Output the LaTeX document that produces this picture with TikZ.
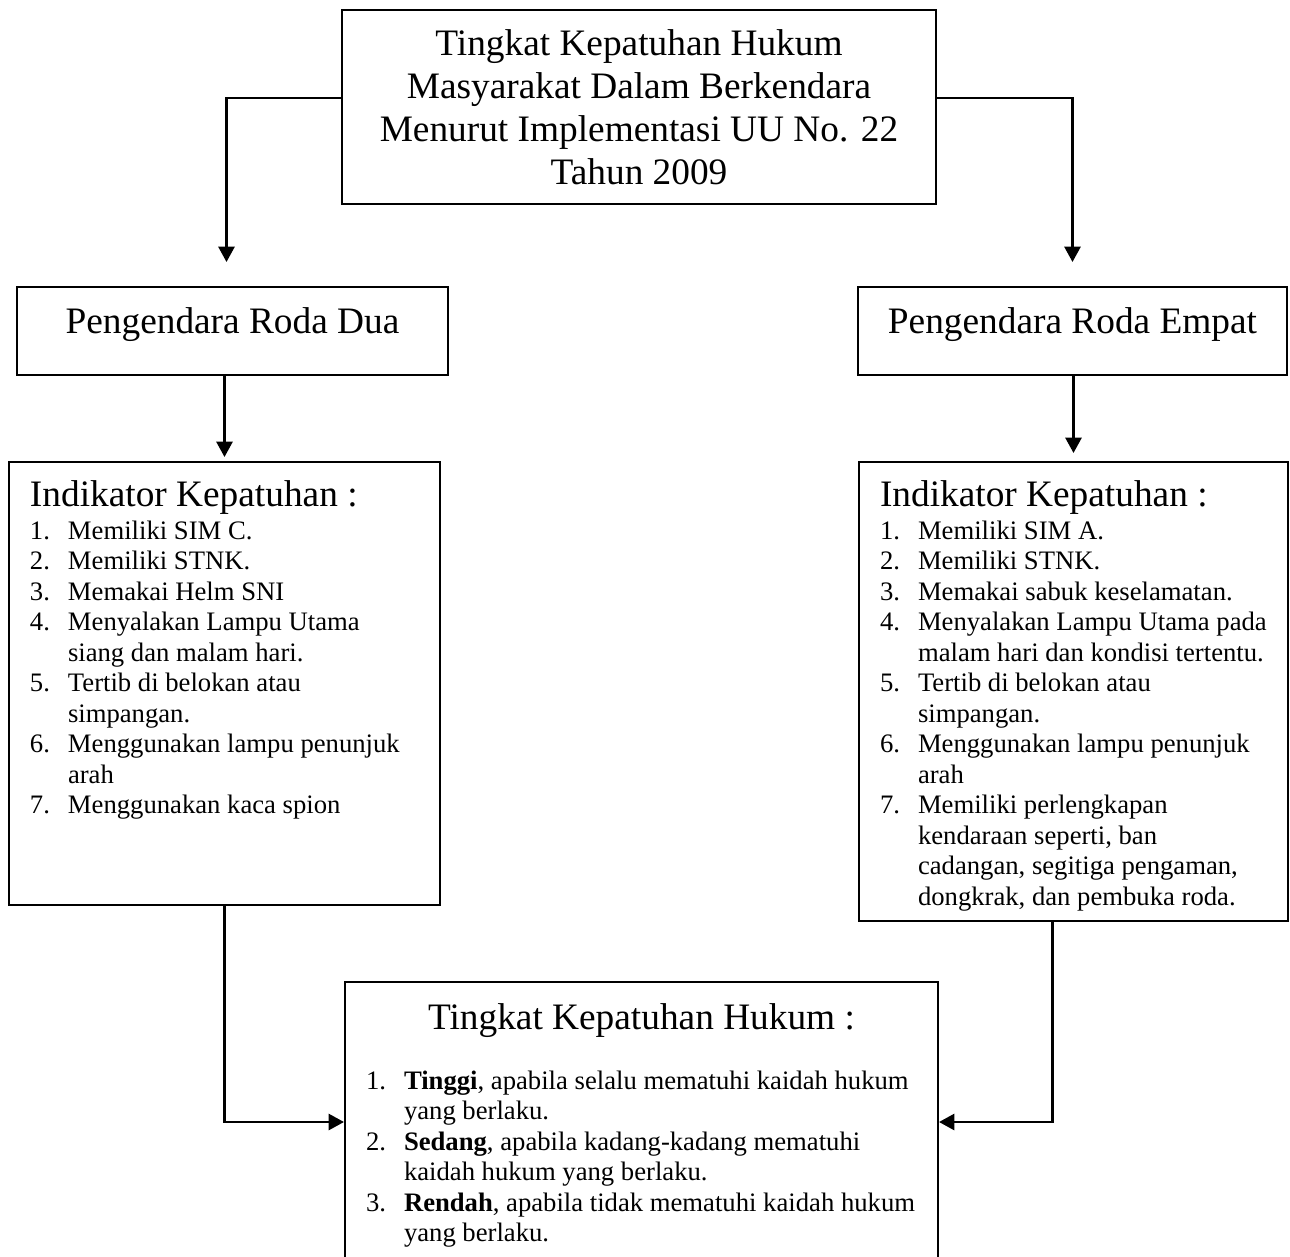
\documentclass[tikz,border=0pt]{standalone}
\usepackage{fontspec}
\setmainfont{Liberation Serif}
\usetikzlibrary{arrows.meta,calc}

\newcommand{\judulfont}{\fontsize{28pt}{32.25pt}\selectfont}
\newcommand{\isifont}{\fontsize{20pt}{22.9pt}\selectfont}

\begin{document}
\begin{tikzpicture}[x=0.75pt,y=-0.75pt,
  kotak/.style={draw,line width=1.5pt,inner sep=0pt},
  daftar/.style={kotak,anchor=north west,align=flush left,inner xsep=15.75pt,inner ysep=0pt},
  panah/.style={line width=2pt,-{Triangle[width=12pt,length=11.5pt]}}]

  \path[fill=white,use as bounding box] (0,0) rectangle (1290,1257);
  \clip (0,0) rectangle (1290,1257);

  \node[kotak,minimum width=445.5pt,minimum height=145.5pt,align=center,font=\judulfont] (judul) at (639,107)
    {Tingkat Kepatuhan Hukum\\Masyarakat Dalam Berkendara\\Menurut Implementasi UU No. 22\\Tahun 2009};

  \node[kotak,minimum width=323.25pt,minimum height=66pt,text height=19pt,text depth=16pt,font=\judulfont] (dua) at (232.5,331) {Pengendara Roda Dua};
  \node[kotak,minimum width=321.75pt,minimum height=66pt,text height=19pt,text depth=16pt,font=\judulfont] (empat) at (1072.5,331) {Pengendara Roda Empat};

  \node[daftar,text width=291.75pt,text height=33pt,text depth=299.25pt] (indA) at (8,461) {%
    {\judulfont Indikator Kepatuhan :\par}
    \vspace{1.85pt}
    {\isifont\begin{tabular}[t]{@{}p{28.5pt}@{}l@{}}
      1. & Memiliki SIM C.\\
      2. & Memiliki STNK.\\
      3. & Memakai Helm SNI\\
      4. & Menyalakan Lampu Utama\\
         & siang dan malam hari.\\
      5. & Tertib di belokan atau\\
         & simpangan.\\
      6. & Menggunakan lampu penunjuk\\
         & arah\\
      7. & Menggunakan kaca spion
    \end{tabular}\par}};

  \node[daftar,text width=290.25pt,text height=33pt,text depth=311.25pt] (indB) at (858,461) {%
    {\judulfont Indikator Kepatuhan :\par}
    \vspace{1.85pt}
    {\isifont\begin{tabular}[t]{@{}p{28.5pt}@{}l@{}}
      1. & Memiliki SIM A.\\
      2. & Memiliki STNK.\\
      3. & Memakai sabuk keselamatan.\\
      4. & Menyalakan Lampu Utama pada\\
         & malam hari dan kondisi tertentu.\\
      5. & Tertib di belokan atau\\
         & simpangan.\\
      6. & Menggunakan lampu penunjuk\\
         & arah\\
      7. & Memiliki perlengkapan\\
         & kendaraan seperti, ban\\
         & cadangan, segitiga pengaman,\\
         & dongkrak, dan pembuka roda.
    \end{tabular}\par}};

  \node[daftar,text width=413.25pt,text height=35.25pt,text depth=177.75pt] (tingkat) at (344,981) {%
    {\judulfont\centering Tingkat Kepatuhan Hukum :\par}
    \vspace{22.1pt}
    {\isifont\begin{tabular}[t]{@{}p{28.5pt}@{}l@{}}
      1. & \textbf{Tinggi}, apabila selalu mematuhi kaidah hukum\\
         & yang berlaku.\\
      2. & \textbf{Sedang}, apabila kadang-kadang mematuhi\\
         & kaidah hukum yang berlaku.\\
      3. & \textbf{Rendah}, apabila tidak mematuhi kaidah hukum\\
         & yang berlaku.
    \end{tabular}\par}};

  \draw[panah,shorten >=18pt] ($(judul.west)+(0,-9)$) -| ([xshift=-4.5pt]dua.north);
  \draw[panah,shorten >=18pt] ($(judul.east)+(0,-9)$) -| (empat.north);
  \draw[panah,shorten >=3pt] (indA.north |- dua.south) -- (indA.north);
  \draw[panah,shorten >=6pt] (indB.north |- empat.south) -- (indB.north);
  \draw[panah] (indA.south) |- ($(tingkat.north west)+(0,141)$);
  \draw[panah] ([xshift=-16pt]indB.south) |- ($(tingkat.north east)+(0,141)$);
\end{tikzpicture}
\end{document}
